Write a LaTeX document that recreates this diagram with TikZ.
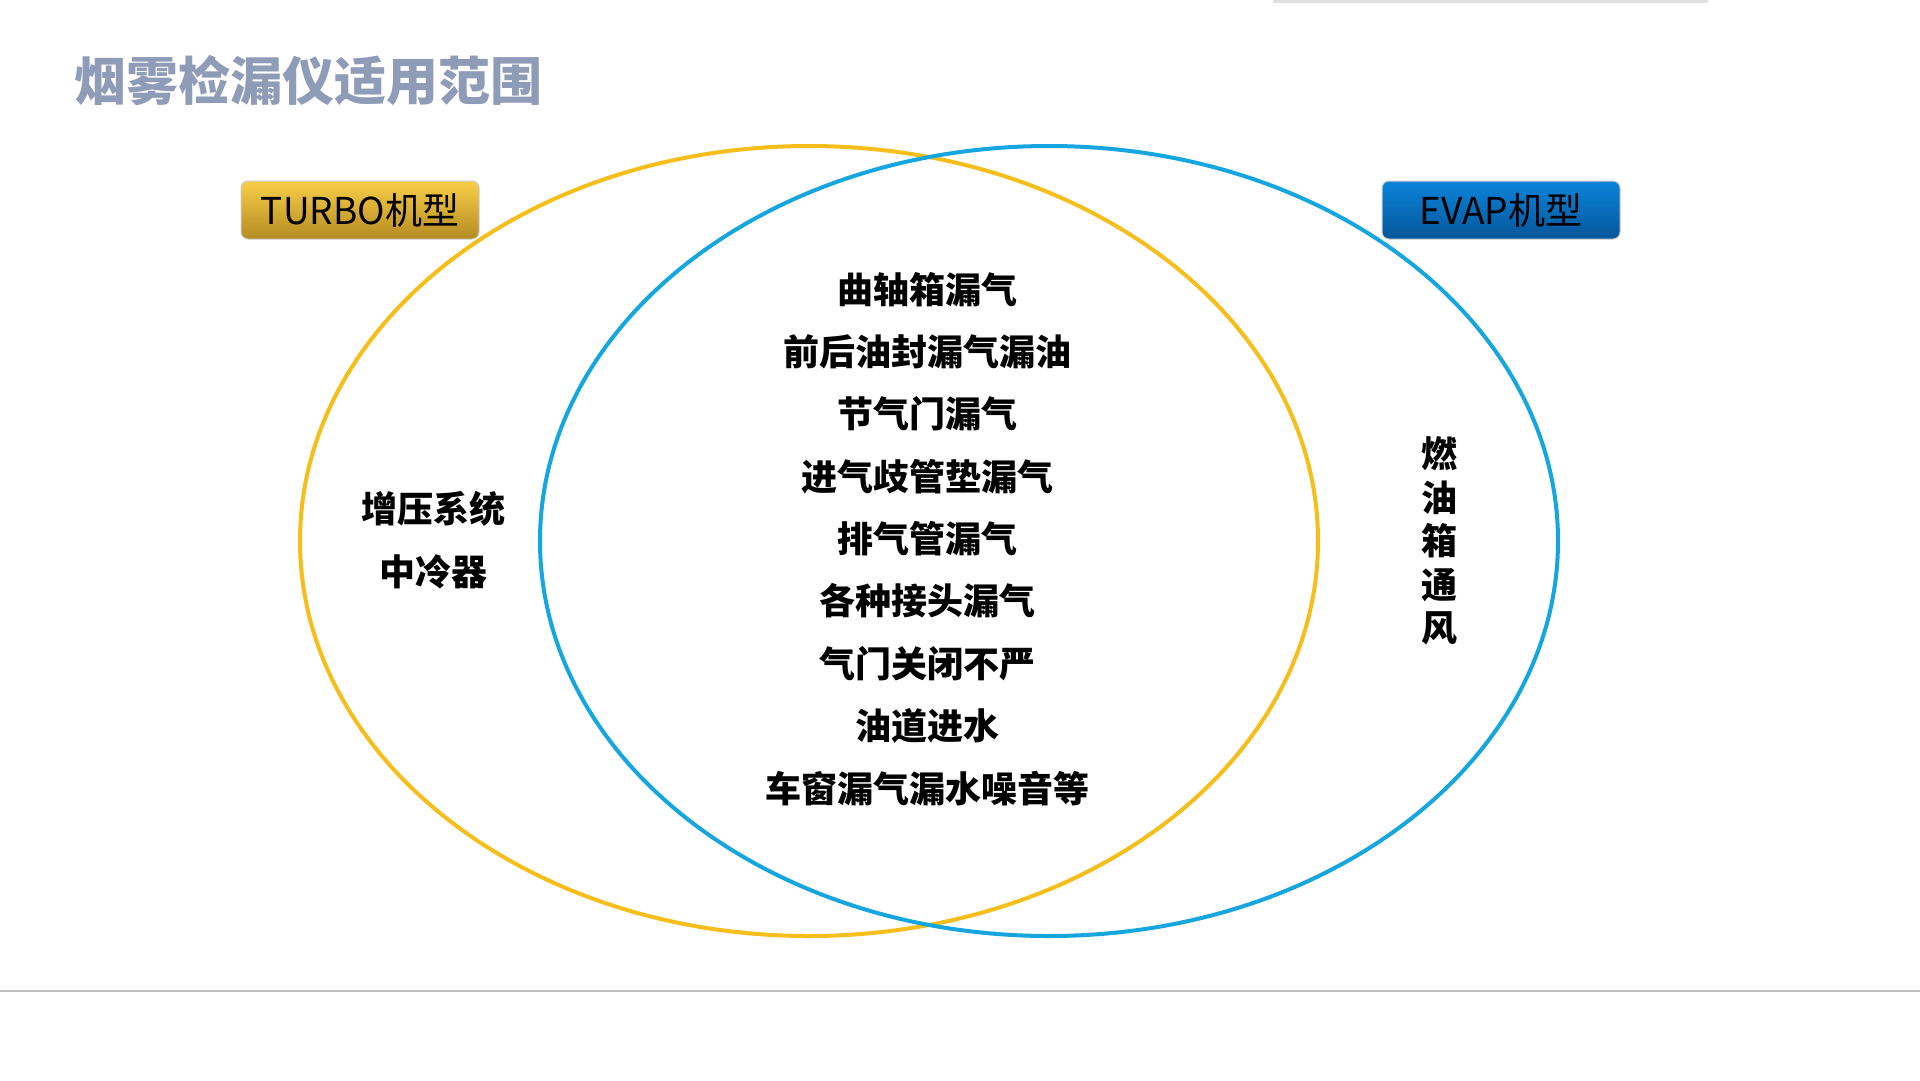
\documentclass[tikz,border=0pt]{standalone}
\usepackage{fontspec}
\setmainfont{Noto Sans CJK SC}
\newfontfamily\heavycjk{Noto Sans CJK SC Black}
\usetikzlibrary{shapes.geometric}
\definecolor{titlegray}{HTML}{8F9CB8}
\definecolor{goldline}{HTML}{F6BE1A}
\definecolor{blueline}{HTML}{16A6DF}
\definecolor{goldtop}{HTML}{F8CE48}
\definecolor{goldbot}{HTML}{B48B22}
\definecolor{bluetop}{HTML}{0B84DA}
\definecolor{bluebot}{HTML}{05569A}
\definecolor{rulegray}{HTML}{BEBEBE}
\tikzset{
  item/.style={inner sep=0pt, font=\fontsize{36}{36}\selectfont\heavycjk, text=black},
  tagbox/.style={rounded corners=7pt, draw=black!20, line width=1pt, minimum width=238pt, minimum height=58pt, inner sep=0pt, font=\fontsize{37}{37}\selectfont, text=black},
  venn/.style={line width=4pt}
}
\begin{document}
\begin{tikzpicture}[x=1pt,y=-1pt]
\useasboundingbox (0,0) rectangle (1920,1080);
\fill[white] (0,0) rectangle (1920,1080);
% top shadow bar
\fill[black!12] (1273,0) rectangle (1708,3);
% title
\node[anchor=west, inner sep=0pt, font=\fontsize{52}{52}\selectfont\bfseries, text=titlegray] (title) at (74,81) {烟雾检漏仪适用范围};
% ellipses
\draw[venn, goldline] (809,541) ellipse [x radius=509, y radius=395];
\draw[venn, blueline] (1049,541) ellipse [x radius=509, y radius=395];
% bottom rule
\draw[rulegray, line width=2pt] (0,991) -- (1920,991);
% tag boxes
\node[tagbox, top color=goldtop, bottom color=goldbot] (turbo) at (360,210) {TURBO机型};
\node[tagbox, top color=bluetop, bottom color=bluebot] (evap) at (1501,210) {EVAP机型};
% center items
\node[item] (c1) at (927,290) {曲轴箱漏气};
\node[item] (c2) at (927,352) {前后油封漏气漏油};
\node[item] (c3) at (927,414) {节气门漏气};
\node[item] (c4) at (927,477) {进气歧管垫漏气};
\node[item] (c5) at (927,539) {排气管漏气};
\node[item] (c6) at (927,601) {各种接头漏气};
\node[item] (c7) at (927,664) {气门关闭不严};
\node[item] (c8) at (927,726) {油道进水};
\node[item] (c9) at (927,789) {车窗漏气漏水噪音等};
% left items
\node[item] (l1) at (433,509) {增压系统};
\node[item] (l2) at (433,572) {中冷器};
% right vertical text
\node[item, align=center, font=\fontsize{36}{43.5}\selectfont\heavycjk] (r1) at (1439,541) {燃\\油\\箱\\通\\风};
\end{tikzpicture}
\end{document}
